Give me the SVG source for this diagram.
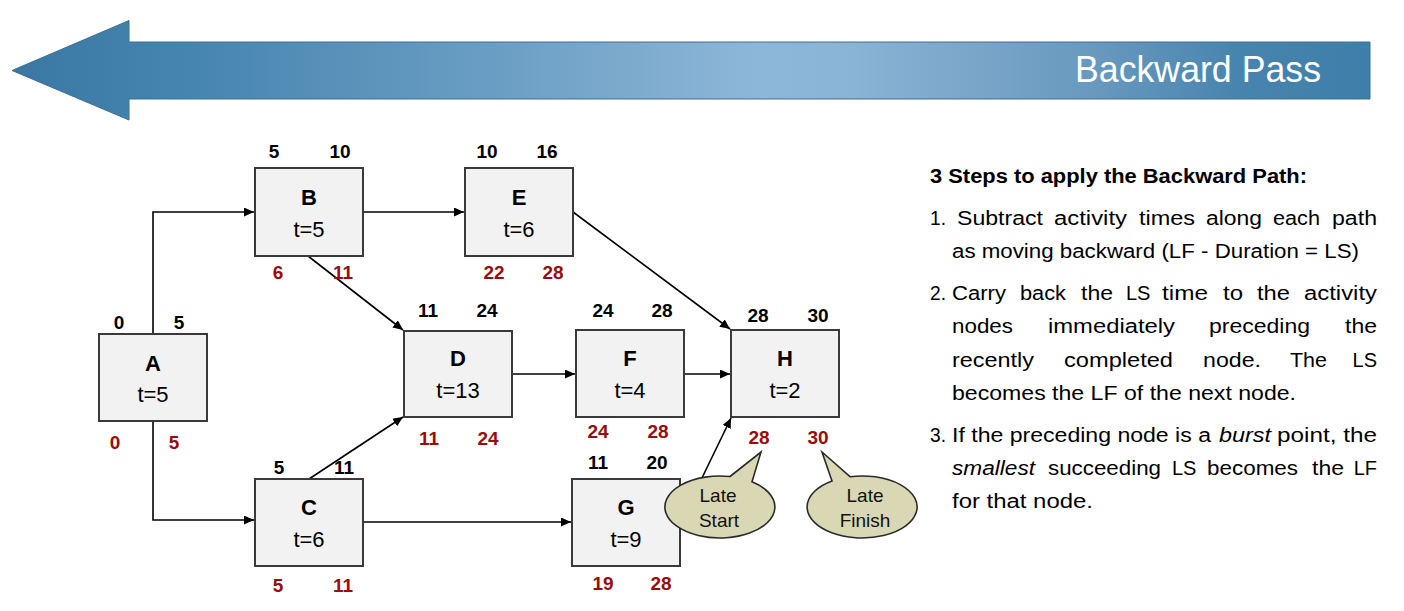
<svg xmlns="http://www.w3.org/2000/svg" width="1404" height="611" viewBox="0 0 1404 611">
<style>
.box{fill:#F2F2F2;stroke:#3A3A3A;stroke-width:2}
.lbl{font-family:"Liberation Sans",Arial,sans-serif;font-weight:bold;font-size:22px;fill:#000;text-anchor:middle}
.dur{font-family:"Liberation Sans",Arial,sans-serif;font-size:22px;fill:#000;text-anchor:middle}
.es{font-family:"Liberation Sans",Arial,sans-serif;font-weight:bold;font-size:19px;fill:#000;text-anchor:middle}
.ls{font-family:"Liberation Sans",Arial,sans-serif;font-weight:bold;font-size:19px;fill:#9B0B0B;text-anchor:middle}
.con{stroke:#000;stroke-width:1.6;fill:none;marker-end:url(#ah)}
.bub{fill:#DAD8B4;stroke:#2A2A2A;stroke-width:1.6}
.bt{font-family:"Liberation Sans",Arial,sans-serif;font-size:19px;fill:#111;text-anchor:middle}
.tx{font-family:"Liberation Sans",Arial,sans-serif;font-size:20px;fill:#000}
.e{text-anchor:end}
</style>
<defs>
<linearGradient id="bg" x1="12" y1="0" x2="1370" y2="0" gradientUnits="userSpaceOnUse">
<stop offset="0" stop-color="#3A78A3"/>
<stop offset="0.12" stop-color="#4484AE"/>
<stop offset="0.35" stop-color="#6A9DC3"/>
<stop offset="0.55" stop-color="#8DB7D8"/>
<stop offset="0.62" stop-color="#8AB3D4"/>
<stop offset="0.8" stop-color="#6898BE"/>
<stop offset="0.9" stop-color="#4885AE"/>
<stop offset="1" stop-color="#3E7EA8"/>
</linearGradient>
<marker id="ah" markerUnits="userSpaceOnUse" markerWidth="11" markerHeight="9" refX="10" refY="4.5" orient="auto">
<path d="M0,0 L10,4.5 L0,9 Z" fill="#000"/>
</marker>
</defs>

<g id="banner">
<path d="M12,70.5 L129,20.5 L129,42 L1370,42 L1370,99 L129,99 L129,120 Z" fill="url(#bg)" stroke="#3C6F97" stroke-width="1"/>
<text x="1075" y="82" font-family="Liberation Sans,Arial,sans-serif" font-size="36" fill="#FFFFFF" textLength="246" lengthAdjust="spacingAndGlyphs">Backward Pass</text>
</g>

<g id="connectors">
<path class="con" d="M153,334 L153,212 L254,212"/>
<path class="con" d="M153,421 L153,520 L254,520"/>
<path class="con" d="M363,212 L464,212"/>
<path class="con" d="M308,256 L403,330"/>
<path class="con" d="M309,479 L403,417"/>
<path class="con" d="M512,374 L575,374"/>
<path class="con" d="M363,522 L571,522"/>
<path class="con" d="M573,212 L730,329"/>
<path class="con" d="M684,374 L730,374"/>
<path class="con" d="M701,480 L731,418"/>
</g>

<g id="node-A">
<rect class="box" x="99" y="334" width="108" height="87"/>
<text class="lbl" x="153" y="371">A</text>
<text class="dur" x="153" y="402">t=5</text>
<text class="es" x="119" y="329">0</text><text class="es" x="179" y="329">5</text>
<text class="ls" x="115" y="449">0</text><text class="ls" x="174" y="449">5</text>
</g>
<g id="node-B">
<rect class="box" x="255" y="168" width="108" height="88"/>
<text class="lbl" x="309" y="205">B</text>
<text class="dur" x="309" y="237">t=5</text>
<text class="es" x="274" y="158">5</text><text class="es" x="340" y="158">10</text>
<text class="ls" x="278" y="279">6</text><text class="ls" x="343" y="279">11</text>
</g>
<g id="node-E">
<rect class="box" x="465" y="168" width="108" height="88"/>
<text class="lbl" x="519" y="205">E</text>
<text class="dur" x="519" y="237">t=6</text>
<text class="es" x="487" y="158">10</text><text class="es" x="547" y="158">16</text>
<text class="ls" x="494" y="279">22</text><text class="ls" x="553" y="279">28</text>
</g>
<g id="node-D">
<rect class="box" x="404" y="331" width="108" height="86"/>
<text class="lbl" x="458" y="366">D</text>
<text class="dur" x="458" y="398">t=13</text>
<text class="es" x="428" y="317">11</text><text class="es" x="487" y="317">24</text>
<text class="ls" x="429" y="445">11</text><text class="ls" x="488" y="445">24</text>
</g>
<g id="node-F">
<rect class="box" x="576" y="330" width="108" height="87"/>
<text class="lbl" x="630" y="366">F</text>
<text class="dur" x="630" y="398">t=4</text>
<text class="es" x="603" y="317">24</text><text class="es" x="662" y="317">28</text>
<text class="ls" x="598" y="438">24</text><text class="ls" x="658" y="438">28</text>
</g>
<g id="node-H">
<rect class="box" x="731" y="330" width="108" height="87"/>
<text class="lbl" x="785" y="366">H</text>
<text class="dur" x="785" y="398">t=2</text>
<text class="es" x="758" y="322">28</text><text class="es" x="818" y="322">30</text>
<text class="ls" x="759" y="444">28</text><text class="ls" x="818" y="444">30</text>
</g>
<g id="node-C">
<rect class="box" x="255" y="479" width="108" height="87"/>
<text class="lbl" x="309" y="515">C</text>
<text class="dur" x="309" y="547">t=6</text>
<text class="es" x="279" y="474">5</text><text class="es" x="344" y="474">11</text>
<text class="ls" x="278" y="592">5</text><text class="ls" x="343" y="592">11</text>
</g>
<g id="node-G">
<rect class="box" x="572" y="479" width="108" height="87"/>
<text class="lbl" x="626" y="515">G</text>
<text class="dur" x="626" y="547">t=9</text>
<text class="es" x="598" y="469">11</text><text class="es" x="657" y="469">20</text>
<text class="ls" x="603" y="590">19</text><text class="ls" x="661" y="590">28</text>
</g>

<g id="callout-late-start">
<path class="bub" d="M730,476.5 L761,452 L752,481.8 A55,31 0 1 1 730,476.5 Z"/>
<text class="bt" x="718" y="502">Late</text>
<text class="bt" x="719" y="527">Start</text>
</g>
<g id="callout-late-finish">
<path class="bub" d="M850,476.7 A55,31 0 1 1 832,481 L822,452 Z"/>
<text class="bt" x="865" y="502">Late</text>
<text class="bt" x="865" y="527">Finish</text>
</g>

<g id="steps">
<text class="tx" x="930" y="183" font-weight="bold" textLength="377" lengthAdjust="spacingAndGlyphs">3 Steps to apply the Backward Path:</text>
<text class="tx" x="930" y="225" textLength="16" lengthAdjust="spacingAndGlyphs">1.</text>
<text class="tx" x="957" y="225" textLength="86" lengthAdjust="spacingAndGlyphs">Subtract</text>
<text class="tx" x="1054" y="225" textLength="73" lengthAdjust="spacingAndGlyphs">activity</text>
<text class="tx" x="1139" y="225" textLength="56" lengthAdjust="spacingAndGlyphs">times</text>
<text class="tx" x="1206" y="225" textLength="56" lengthAdjust="spacingAndGlyphs">along</text>
<text class="tx" x="1273" y="225" textLength="47" lengthAdjust="spacingAndGlyphs">each</text>
<text class="tx" x="1332" y="225" textLength="45" lengthAdjust="spacingAndGlyphs">path</text>
<text class="tx" x="952" y="258" textLength="407" lengthAdjust="spacingAndGlyphs">as moving backward (LF - Duration = LS)</text>
<text class="tx" x="930" y="300" textLength="16" lengthAdjust="spacingAndGlyphs">2.</text>
<text class="tx" x="952" y="300" textLength="54" lengthAdjust="spacingAndGlyphs">Carry</text>
<text class="tx" x="1020" y="300" textLength="46" lengthAdjust="spacingAndGlyphs">back</text>
<text class="tx" x="1081" y="300" textLength="32" lengthAdjust="spacingAndGlyphs">the</text>
<text class="tx" x="1126" y="300">LS</text>
<text class="tx" x="1162" y="300" textLength="46" lengthAdjust="spacingAndGlyphs">time</text>
<text class="tx" x="1223" y="300" textLength="20" lengthAdjust="spacingAndGlyphs">to</text>
<text class="tx" x="1257" y="300" textLength="33" lengthAdjust="spacingAndGlyphs">the</text>
<text class="tx" x="1304" y="300" textLength="73" lengthAdjust="spacingAndGlyphs">activity</text>
<text class="tx" x="952" y="333" textLength="61" lengthAdjust="spacingAndGlyphs">nodes</text>
<text class="tx" x="1048" y="333" textLength="127" lengthAdjust="spacingAndGlyphs">immediately</text>
<text class="tx" x="1209" y="333" textLength="101" lengthAdjust="spacingAndGlyphs">preceding</text>
<text class="tx" x="1345" y="333" textLength="32" lengthAdjust="spacingAndGlyphs">the</text>
<text class="tx" x="952" y="367" textLength="82" lengthAdjust="spacingAndGlyphs">recently</text>
<text class="tx" x="1064" y="367" textLength="109" lengthAdjust="spacingAndGlyphs">completed</text>
<text class="tx" x="1203" y="367" textLength="58" lengthAdjust="spacingAndGlyphs">node.</text>
<text class="tx" x="1290" y="367" textLength="37" lengthAdjust="spacingAndGlyphs">The</text>
<text class="tx e" x="1377" y="367">LS</text>
<text class="tx" x="952" y="400" textLength="344" lengthAdjust="spacingAndGlyphs">becomes the LF of the next node.</text>
<text class="tx" x="930" y="442" textLength="16" lengthAdjust="spacingAndGlyphs">3.</text>
<text class="tx" x="952" y="442" textLength="259" lengthAdjust="spacingAndGlyphs">If the preceding node is a</text>
<text class="tx" x="1219" y="442" font-style="italic" textLength="52" lengthAdjust="spacingAndGlyphs">burst</text>
<text class="tx" x="1277" y="442" textLength="100" lengthAdjust="spacingAndGlyphs">point, the</text>
<text class="tx" x="952" y="475" font-style="italic" textLength="83" lengthAdjust="spacingAndGlyphs">smallest</text>
<text class="tx" x="1048" y="475" textLength="113" lengthAdjust="spacingAndGlyphs">succeeding</text>
<text class="tx" x="1172" y="475">LS</text>
<text class="tx" x="1207" y="475" textLength="91" lengthAdjust="spacingAndGlyphs">becomes</text>
<text class="tx" x="1312" y="475" textLength="32" lengthAdjust="spacingAndGlyphs">the</text>
<text class="tx e" x="1377" y="475">LF</text>
<text class="tx" x="952" y="508" textLength="141" lengthAdjust="spacingAndGlyphs">for that node.</text>
</g>
</svg>
